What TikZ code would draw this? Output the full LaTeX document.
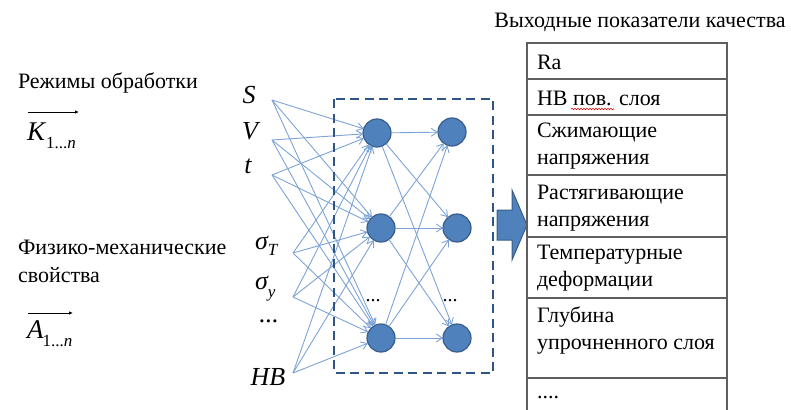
\documentclass[tikz,border=0pt]{standalone}
\usepackage{fontspec}
\setmainfont{Liberation Serif}
\usetikzlibrary{arrows.meta,decorations.pathmorphing}

\definecolor{netline}{RGB}{125,163,214}
\definecolor{nodefill}{RGB}{79,129,189}
\definecolor{nodeedge}{RGB}{56,93,138}
\definecolor{framecol}{RGB}{45,85,135}
\definecolor{gridcol}{RGB}{95,95,95}

\newcommand{\sublow}[2][-0.3em]{\raisebox{#1}{\fontsize{17}{17}\selectfont #2}}

\begin{document}
\begin{tikzpicture}[x=1pt,y=-1pt,
  every node/.style={inner sep=0pt, outer sep=0pt},
  plain/.style={font=\fontsize{22}{28}\selectfont, anchor=west, align=left},
  cell/.style={font=\fontsize{22}{27}\selectfont, anchor=west, align=left},
  varlabel/.style={font=\fontsize{26}{26}\selectfont\itshape},
  vecname/.style={font=\fontsize{27}{27}\selectfont, anchor=base west},
  vecarrow/.style={line width=0.9pt, -{Latex[length=4pt,width=3.5pt]}},
  neuron/.style={circle, fill=nodefill, draw=nodeedge, line width=1.2pt, minimum size=28pt},
  link/.style={draw=netline, line width=0.9pt, -{Straight Barb[length=6pt,width=8pt]}},
  frame/.style={draw=framecol, line width=2.2pt, dash pattern=on 9pt off 5.5pt},
  grid/.style={draw=gridcol, line width=1.1pt},
  bigarrow/.style={fill=nodefill, draw=nodeedge, line width=1pt, line join=miter}
]
\useasboundingbox (0,0) rectangle (791,409);

% ---- left-hand captions with vector names
\node[plain] (modes) at (18,83) {Режимы обработки};
\coordinate (kl) at (28,112);
\coordinate (kr) at (79,112);
\draw[vecarrow] (kl) -- (kr);
\node[vecname] (K) at (27,140) {\textit{K}\sublow{1...\textit{n}}};

\node[plain] (props) at (18,261) {Физико-механические\\свойства};
\coordinate (al) at (28,313);
\coordinate (ar) at (73,313);
\draw[vecarrow] (al) -- (ar);
\node[vecname] (A) at (27,338) {\textit{A}\hspace{-1pt}\sublow{1...\textit{n}}};

% ---- input variables
\node[varlabel] (lS) at (249,95) {S};
\node[varlabel] (lV) at (250,131) {V};
\node[varlabel] (lt) at (248,166) {t};
\node[varlabel, anchor=west] (lT) at (255,246) {σ\sublow[-0.25em]{\itshape T}};
\node[varlabel, anchor=west] (ly) at (255,289) {σ\sublow[-0.3em]{\itshape y}};
\node[varlabel] (ldots) at (269,321) {...};
\node[varlabel] (lHB) at (268,377) {HB};

\coordinate (inS) at (272,100);
\coordinate (inV) at (272,140);
\coordinate (int) at (272,175);
\coordinate (inT) at (293,253);
\coordinate (iny) at (293,297);
\coordinate (inHB) at (293,373);

% ---- network nodes
\node[neuron] (h1a) at (377,133) {};
\node[neuron] (h1b) at (381,228) {};
\node[neuron] (h1c) at (381,338) {};
\node[neuron] (h2a) at (452,132) {};
\node[neuron] (h2b) at (457,228) {};
\node[neuron] (h2c) at (457,338) {};
\node[font=\fontsize{20}{20}\selectfont] (d1) at (373,301) {...};
\node[font=\fontsize{20}{20}\selectfont] (d2) at (450,301) {...};

% ---- connections
\foreach \i in {inS,inV,int,inT,iny,inHB}
  \foreach \j in {h1a,h1b,h1c}
    \draw[link] (\i) -- (\j);
\foreach \i in {h1a,h1b,h1c}
  \foreach \j in {h2a,h2b,h2c}
    \draw[link] (\i) -- (\j);

% ---- dashed frame round the hidden layers
\coordinate (fr1) at (334,99);
\coordinate (fr2) at (493,373);
\draw[frame] (fr1) rectangle (fr2);

% ---- block arrow to the outputs
\draw[bigarrow] (497,210) -- (512,210) -- (512,190) -- (527,225)
  -- (512,260) -- (512,240) -- (497,240) -- cycle;

% ---- output table
\node[plain, anchor=center] (title) at (640,22) {Выходные показатели качества};
\draw[grid] (527,415) -- (527,43) -- (727,43) -- (727,415);
\foreach \yy in {79,115,175,237,298,378}
  \draw[grid] (527,\yy) -- (727,\yy);

\node[cell] (o1) at (537,62) {Ra};
\node[cell] (o2) at (537,98) {HB пов. слоя};
\node[cell] (o3) at (537,146) {Сжимающие\\напряжения};
\node[cell] (o4) at (537,208) {Растягивающие\\напряжения};
\node[cell] (o5) at (537,268) {Температурные\\деформации};
\node[cell] (o6) at (537,330) {Глубина\\упрочненного слоя};
\node[cell] (o7) at (537,398) {....};

% spelling mark under the abbreviation
\draw[red!85!black, line width=0.6pt, decorate,
  decoration={snake, amplitude=0.7pt, segment length=3pt}] (571,109) -- (614,109);
\end{tikzpicture}
\end{document}
